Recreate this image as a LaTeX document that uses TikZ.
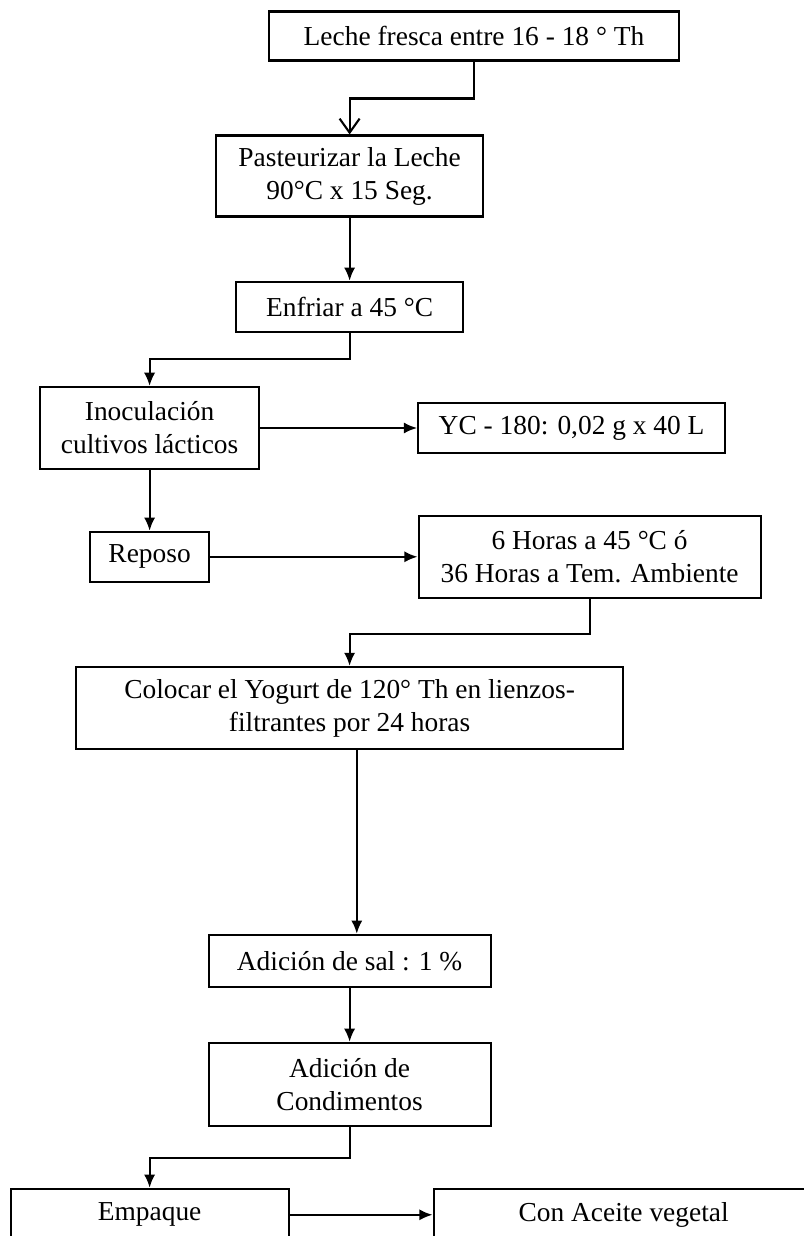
\documentclass[tikz,border=0pt]{standalone}
\usepackage{fontspec}
\setmainfont{Liberation Serif}
\usetikzlibrary{arrows.meta,positioning}
\tikzset{
	block/.style={
		rectangle,
		draw=black,
		line width=1.5pt,
		fill=white,
		inner sep=0pt,
		align=center,
		font=\fontsize{19.5}{23.5}\selectfont,
		minimum height=1.25cm
	},
	arrow/.style={
		draw=black,
		line width=1.5pt,
		-{Latex[length=3.3mm,width=2.8mm]}
	},
	openarrow/.style={
		draw=black,
		line width=1.5pt,
		-{Straight Barb[length=3.5mm,width=5mm]}
	},
}

\begin{document}
\begin{tikzpicture}[node distance=3.2cm,on grid]
	\useasboundingbox (0,0) rectangle (20.1,-30.9);
	\clip (0,0) rectangle (20.1,-30.9);
	\node[block,minimum width=10.25cm,minimum height=1.225cm] (leche) at (11.85,-0.9) {Leche fresca entre 16 - 18 ° Th};
	\node[block,minimum width=6.675cm,minimum height=2.025cm] (pasteur) [below=3.5cm of leche,xshift=-3.11cm] {Pasteurizar la Leche\\90°C x 15 Seg.};
	\node[block,minimum width=5.675cm] (enfriar) [below=3.27cm of pasteur] {Enfriar a 45 °C};
	\node[block,minimum width=5.475cm,minimum height=2.05cm] (inoc) [below=3.03cm of enfriar,xshift=-5cm] {Inoculación\\cultivos lácticos};
	\node[block,minimum width=7.675cm] (yc) [right=10.55cm of inoc] {YC - 180: 0,02 g x 40 L};
	\node[block,minimum width=2.975cm] (reposo) [below=3.22cm of inoc] {Reposo};
	\node[block,minimum width=8.55cm,minimum height=2.05cm] (horas) [right=11cm of reposo] {6 Horas a 45 °C ó\\36 Horas a Tem. Ambiente};
	\node[block,minimum width=13.675cm,minimum height=2.05cm] (colocar) [below=3.78cm of reposo,xshift=5cm] {Colocar el Yogurt de 120° Th en lienzos-\\filtrantes por 24 horas};
	\node[block,minimum width=7.05cm,minimum height=1.3cm] (sal) [below=6.32cm of colocar] {Adición de sal : 1 \%};
	\node[block,minimum width=7.05cm,minimum height=2.075cm] (condim) [below=3.09cm of sal] {Adición de\\Condimentos};
	\node[block,minimum width=6.95cm,minimum height=1.3cm] (empaque) [below=3.26cm of condim,xshift=-5cm] {Empaque};
	\node[block,minimum width=9.5cm,minimum height=1.3cm] (aceite) [right=11.85cm of empaque] {Con Aceite vegetal};
	\draw[openarrow] (leche.south) -- ++(0,-0.925) -| (pasteur.north);
	\draw[arrow] (pasteur) -- (enfriar);
	\draw[arrow] (enfriar.south) -- ++(0,-0.65) -| (inoc.north);
	\draw[arrow] (inoc) -- (yc);
	\draw[arrow] (inoc) -- (reposo);
	\draw[arrow] (reposo) -- (horas);
	\draw[arrow] (horas.south) -- ++(0,-0.875) -| (colocar.north);
	\draw[arrow] ([xshift=1.8mm]colocar.south) -- ([xshift=1.8mm]sal.north);
	\draw[arrow] (sal) -- (condim);
	\draw[arrow] (condim.south) -- ++(0,-0.775) -| (empaque.north);
	\draw[arrow] (empaque) -- (aceite);
\end{tikzpicture}
\end{document}
